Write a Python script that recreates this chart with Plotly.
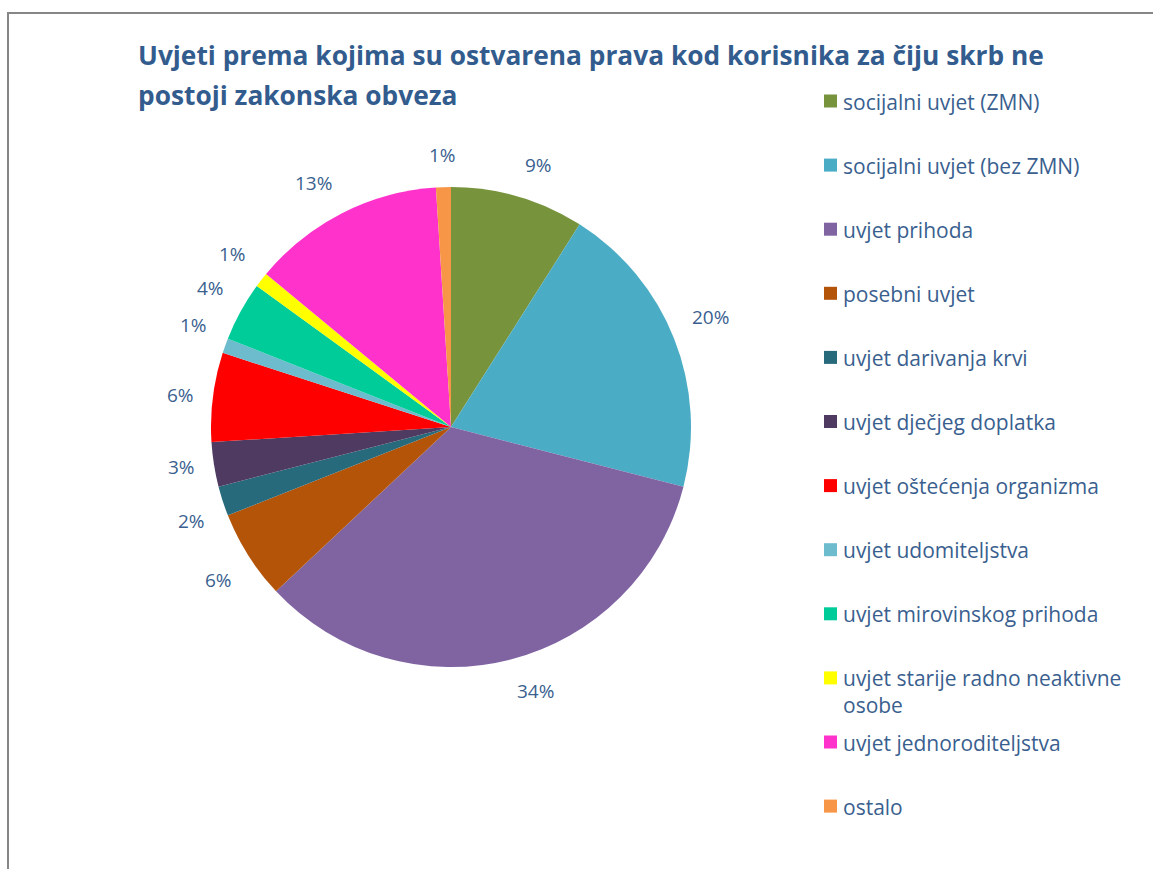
import math
import plotly.graph_objects as go

labels = ["socijalni uvjet (ZMN)", "socijalni uvjet (bez ZMN)", "uvjet prihoda", "posebni uvjet",
          "uvjet darivanja krvi", "uvjet dječjeg doplatka", "uvjet oštećenja organizma",
          "uvjet udomiteljstva", "uvjet mirovinskog prihoda",
          "uvjet starije radno neaktivne<br>osobe", "uvjet jednoroditeljstva", "ostalo"]
values = [9, 20, 34, 6, 2, 3, 6, 1, 4, 1, 13, 1]
colors = ["#77933C", "#4BACC6", "#8064A2", "#B45409", "#276A7C", "#4F3B62", "#FF0000",
          "#6CBCCE", "#00CC99", "#FFFF00", "#FF33CC", "#F79646"]
title_lines = ["Uvjeti prema kojima su ostvarena prava kod korisnika za čiju skrb ne",
               "postoji zakonska obveza"]

W, H = 1153, 869
TXT = "#3A5F8F"
FONT = "Open Sans"

# pie placement (pixels)
CX, CY, R = 451, 427, 240
dom_x = [(CX - R) / W, (CX + R) / W]
dom_y = [1 - (CY + R) / H, 1 - (CY - R) / H]

fig = go.Figure(go.Pie(
    labels=labels, values=values, sort=False, direction="clockwise", rotation=0,
    marker=dict(colors=colors, line=dict(width=0)),
    textposition="none",
    domain=dict(x=dom_x, y=dom_y),
    showlegend=False, hoverinfo="label+percent",
))

shapes = [dict(type="rect", xref="paper", yref="paper",
               x0=8 / W, x1=1.05, y0=-0.05, y1=1 - 13 / H,
               line=dict(color="#868686", width=2), fillcolor="rgba(0,0,0,0)", layer="below")]
annotations = []
for i, line in enumerate(title_lines):
    annotations.append(dict(text=f"<b>{line}</b>", xref="paper", yref="paper",
                            x=136 / W, y=1 - (55 + 40 * i) / H,
                            xanchor="left", yanchor="middle", showarrow=False,
                            font=dict(family=FONT, size=26.3, color="#335C8E")))

# percentage labels placed just outside each slice, at its mid-angle
total = sum(values)
cum = 0
for v in values:
    mid = (cum + v / 2) / total * 2 * math.pi
    cum += v
    s, c = math.sin(mid), math.cos(mid)
    rr = R + 17
    px, py = CX + rr * s, CY - rr * c
    xa = "left" if s > 0.15 else ("right" if s < -0.15 else "center")
    ya = "bottom" if c > 0.3 else ("top" if c < -0.3 else "middle")
    annotations.append(dict(text=f"{round(v / total * 100)}%", xref="paper", yref="paper",
                            x=px / W, y=1 - py / H, xanchor=xa, yanchor=ya, showarrow=False,
                            font=dict(family=FONT, size=19, color=TXT)))

# manual legend
lx_sq, lx_txt = 824, 841
y0, step = 101, 64.1
for i, (lab, col) in enumerate(zip(labels, colors)):
    yc = y0 + step * i
    shapes.append(dict(type="rect", xref="paper", yref="paper",
                       x0=lx_sq / W, x1=(lx_sq + 13) / W,
                       y0=1 - (yc + 6.5) / H, y1=1 - (yc - 6.5) / H,
                       fillcolor=col, line=dict(width=0)))
    annotations.append(dict(text=lab, xref="paper", yref="paper", x=lx_txt / W, y=1 - (yc - 15.5) / H,
                            xanchor="left", yanchor="top", align="left", showarrow=False,
                            font=dict(family=FONT, size=21, color=TXT)))

fig.update_layout(width=W, height=H, margin=dict(l=0, r=0, t=0, b=0),
                  paper_bgcolor="white", plot_bgcolor="white",
                  shapes=shapes, annotations=annotations)
fig.write_html("out.html", config={"displayModeBar": False},
               post_script="document.body.style.margin='0';document.body.style.overflow='hidden';")
